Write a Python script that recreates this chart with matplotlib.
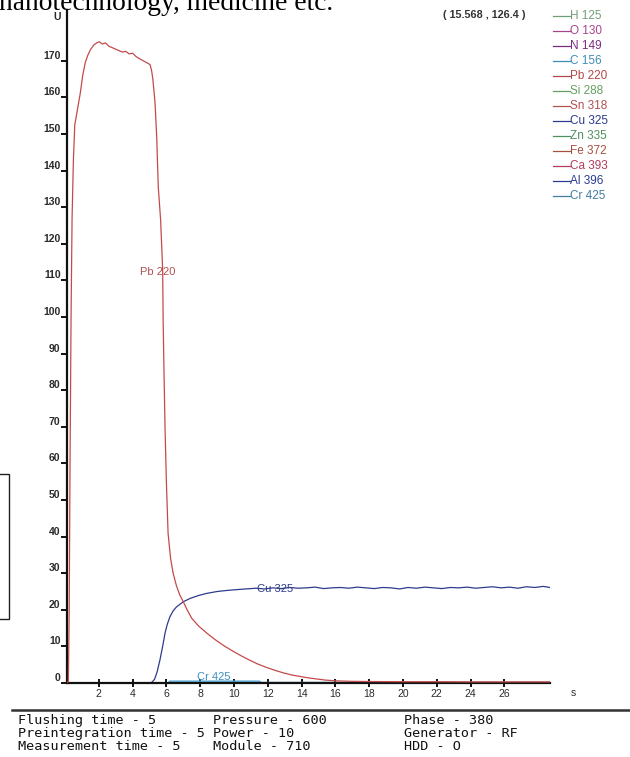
"""
plot.py - spectrum profile (U vs time) recreated from a scanned figure.
"""
import matplotlib
matplotlib.use("Agg")
import matplotlib.pyplot as plt
import matplotlib.patches as mpatches
from matplotlib.lines import Line2D

# ── Data ────────────────────────────────────────────────────────────────────────
pb_t = [0.12, 0.20, 0.25, 0.30, 0.36, 0.42, 0.50, 0.58, 0.75, 0.90, 1.05, 1.20,
        1.35, 1.50, 1.70, 1.90, 2.05, 2.20, 2.40, 2.60, 2.80, 3.00, 3.20, 3.40,
        3.60, 3.80, 4.00, 4.20, 4.40, 4.60, 4.80, 5.03, 5.12, 5.20, 5.33, 5.43,
        5.52, 5.66, 5.78, 5.81, 5.86, 5.92, 6.00, 6.10, 6.25, 6.40, 6.60, 6.80,
        7.00, 7.25, 7.50, 7.90, 8.40, 8.90, 9.40, 9.90, 10.40, 10.90, 11.40,
        11.90, 12.40, 12.90, 13.40, 13.90, 14.40, 14.90, 15.40, 16.00, 17.00,
        18.00, 20.00, 22.00, 24.00, 26.00, 28.70]
pb_v = [0.0, 0.5, 20, 60, 100, 127, 143, 152.5, 157, 161, 166, 169.5,
        171.5, 173, 174.3, 175, 175.2, 174.6, 174.9, 174.0, 173.6, 173.2, 172.8, 172.4,
        172.6, 171.9, 172.1, 171.2, 170.6, 170.1, 169.6, 169, 167.5, 165, 158.5, 149,
        135.6, 126.5, 113, 99, 85, 70, 55, 41, 34, 30, 26.5, 24,
        22.2, 19.8, 17.7, 15.6, 13.6, 11.8, 10.2, 8.8, 7.5, 6.3, 5.2,
        4.3, 3.5, 2.8, 2.2, 1.8, 1.4, 1.1, 0.8, 0.6, 0.45,
        0.4, 0.35, 0.35, 0.3, 0.3, 0.3]

cu_t = [0.12, 5.10, 5.30, 5.45, 5.62, 5.78, 5.92, 6.05, 6.21, 6.40, 6.60, 7.00,
        7.40, 7.90, 8.40, 9.00, 9.60, 10.40, 11.30, 11.80, 12.30, 12.80, 13.30,
        13.80, 14.30, 14.80, 15.30, 15.80, 16.30, 16.80, 17.30, 17.80, 18.30,
        18.80, 19.30, 19.80, 20.30, 20.80, 21.30, 21.80, 22.30, 22.80, 23.30,
        23.80, 24.30, 24.80, 25.30, 25.80, 26.30, 26.80, 27.30, 27.80, 28.30, 28.70]
cu_v = [0.0, 0.0, 1.0, 3.0, 6.3, 10.0, 13.6, 16.0, 18.1, 19.7, 20.8, 22.2,
        23.1, 23.9, 24.5, 25.0, 25.3, 25.6, 25.9, 25.7, 26.0, 25.8, 26.1,
        25.9, 26.0, 26.2, 25.8, 26.0, 26.1, 25.9, 26.2, 26.0, 25.8,
        26.1, 26.0, 25.7, 26.1, 25.9, 26.2, 26.0, 25.8, 26.1, 26.0,
        26.2, 25.9, 26.1, 26.3, 26.0, 26.2, 25.9, 26.3, 26.1, 26.4, 26.1]

cr_t = [0.12, 6.10, 6.20, 11.50, 11.60, 28.70]
cr_v = [0.0, 0.0, 0.5, 0.5, 0.15, 0.15]

y_ticks = list(range(0, 171, 10))
x_ticks = list(range(2, 27, 2))

leg_names = ["H 125", "O 130", "N 149", "C 156", "Pb 220", "Si 288", "Sn 318",
             "Cu 325", "Zn 335", "Fe 372", "Ca 393", "Al 396", "Cr 425"]
leg_colors = ["#6f9f78", "#a8438a", "#7a2c80", "#3f8db5", "#b34848", "#62a062",
              "#b35050", "#2c3b8c", "#4f9060", "#a8503e", "#b33c5c", "#2c3c95",
              "#3f7ea0"]

info_col1 = ["Flushing time - 5", "Preintegration time - 5", "Measurement time - 5"]
info_col2 = ["Pressure - 600", "Power - 10", "Module - 710"]
info_col3 = ["Phase - 380", "Generator - RF", "HDD - O"]

# ── Colours ─────────────────────────────────────────────────────────────────────
PB_CLR   = "#c44a4a"
CU_CLR   = "#2d3c8c"
CR_CLR   = "#4aa3d3"
AXIS_CLR = "#111111"
TEXT_CLR = "#2a2a2a"

W, H = 630, 757


def fx(px):
    return px / W


def fy(py):
    return 1 - py / H


fig = plt.figure(figsize=(W / 100, H / 100), dpi=100, facecolor="white")
ax = fig.add_axes([fx(67), 74 / H, 483 / W, 673 / H])

ax.plot(cr_t, cr_v, color=CR_CLR, linewidth=1.0, zorder=2)
ax.plot(cu_t, cu_v, color=CU_CLR, linewidth=0.9, zorder=2)
ax.plot(pb_t, pb_v, color=PB_CLR, linewidth=0.9, zorder=3)

ax.set_xlim(0.12, 28.70)
ax.set_ylim(0, 183.9)

for side in ("top", "right"):
    ax.spines[side].set_visible(False)
for side in ("left", "bottom"):
    ax.spines[side].set_color(AXIS_CLR)
    ax.spines[side].set_linewidth(1.6)

ax.set_yticks(y_ticks, [str(v) for v in y_ticks], fontweight="bold",
              va="bottom", color=TEXT_CLR, fontsize=7.5, family="Liberation Sans")
ax.tick_params(axis="y", direction="out", length=4.3, width=1.4, pad=0.3,
               color=AXIS_CLR)
ax.set_xticks(x_ticks, [str(v) for v in x_ticks], color=TEXT_CLR,
              fontsize=7.5, family="Liberation Sans")
ax.tick_params(axis="x", direction="inout", length=6, width=1.4, pad=1.5,
               color=AXIS_CLR)

# in-plot curve labels
ax.text(5.46, 112.4, "Pb 220", color="#b05050", fontsize=8, ha="center",
        va="center", family="Liberation Sans")
ax.text(12.41, 25.7, "Cu 325", color=CU_CLR, fontsize=8, ha="center",
        va="center", family="Liberation Sans")
ax.text(8.81, 1.7, "Cr 425", color="#3a8fc0", fontsize=8, ha="center",
        va="center", family="Liberation Sans")

# axis names
fig.text(fx(57), fy(17), "U", fontsize=7.5, fontweight="bold", color=TEXT_CLR,
         ha="center", va="center", family="Liberation Sans")
fig.text(fx(573), fy(693), "s", fontsize=7.5, color=TEXT_CLR,
         ha="center", va="center", family="Liberation Sans")

# cursor read-out
fig.text(fx(484), fy(15), "( 15.568 , 126.4 )", fontsize=7.8, fontweight="bold",
         color="#333333", ha="center", va="center", family="Liberation Sans")

# ── Legend (line + label per element) ──────────────────────────────────────────
for i, (name, clr) in enumerate(zip(leg_names, leg_colors)):
    ly = 16 + 15 * i
    fig.add_artist(Line2D([fx(553), fx(570)], [fy(ly), fy(ly)], color=clr,
                          linewidth=0.9, transform=fig.transFigure))
    fig.text(fx(570), fy(ly), name, color=clr, fontsize=8.5, ha="left",
             va="center", family="Liberation Sans")

# ── Surroundings of the scanned page ───────────────────────────────────────────
fig.text(fx(-1), fy(10), "nanotechnology, medicine etc.", fontsize=19.8,
         family="Liberation Serif", color="black", ha="left", va="baseline")

fig.add_artist(mpatches.Rectangle((fx(-2), fy(619)), fx(11), (619 - 474) / H,
                                  fill=False, edgecolor="#222222", linewidth=1.0,
                                  transform=fig.transFigure))

fig.add_artist(Line2D([fx(12), fx(630)], [fy(710), fy(710)], color="#333333",
                      linewidth=1.8, transform=fig.transFigure))

for i in range(3):
    by = 724 + 13 * i
    for col_x, col in ((18, info_col1), (213, info_col2), (404, info_col3)):
        fig.text(fx(col_x), fy(by), col[i], fontsize=9.7, family="DejaVu Sans Mono",
                 color="#111111", ha="left", va="baseline")

fig.savefig("out.png", dpi=100, facecolor="white")
plt.close(fig)
